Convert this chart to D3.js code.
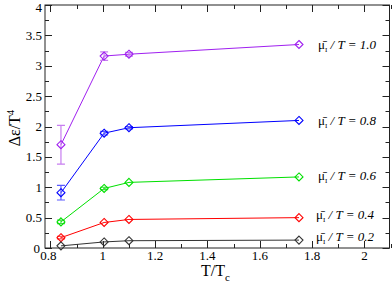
<!DOCTYPE html>
<html><head><meta charset="utf-8">
<script src="https://cdn.jsdelivr.net/npm/d3@7"></script>
<style>body{margin:0;background:#fff}svg{display:block}</style>
</head><body><svg id="c" width="392" height="287"></svg>
<script>
const xs = [0.84, 1.005, 1.1, 1.75];
const seriesNames = ["1.0", "0.8", "0.6", "0.4", "0.2"];
const vals10 = [1.70, 3.16, 3.19, 3.35];
const err10  = [0.32, 0.07, 0.03, 0];
const vals08 = [0.91, 1.89, 1.98, 2.10];
const err08  = [0.12, 0.03, 0.02, 0];
const vals06 = [0.43, 0.98, 1.08, 1.17];
const err06  = [0.03, 0.02, 0.01, 0];
const vals04 = [0.17, 0.42, 0.47, 0.50];
const err04  = [0.02, 0.01, 0.01, 0];
const vals02 = [0.035, 0.10, 0.12, 0.13];
const err02  = [0.01, 0, 0, 0];
const xTicks = [0.8, 1, 1.2, 1.4, 1.6, 1.8, 2];
const yTicks = [0, 0.5, 1, 1.5, 2, 2.5, 3, 3.5, 4];

const colors = ["#a020f0", "#0000ff", "#00e000", "#ff0000", "#333333"];
const errColors = ["#c77ef0", "#5a5aff", "#40e040", "#ff5050", "#666666"];
const labelAt = [3.32, 2.07, 1.17, 0.52, 0.16];
const series = [
  {v: vals10, e: err10}, {v: vals08, e: err08}, {v: vals06, e: err06},
  {v: vals04, e: err04}, {v: vals02, e: err02}
];

const L = 45, R = 389.5, T = 5, B = 248;
const x = d3.scaleLinear().domain([0.779, 2.096]).range([L, R]);
const y = d3.scaleLinear().domain([0, 4]).range([B, T]);
const svg = d3.select("#c").style("font-family", "'Liberation Serif', 'Tinos', 'DejaVu Serif', serif");

svg.append("rect").attr("x", L).attr("y", T).attr("width", R - L).attr("height", B - T)
  .attr("fill", "none").attr("stroke", "#222").attr("stroke-width", 1);

const g = svg.append("g").attr("stroke", "#222").attr("stroke-width", 1);
const xMinor = d3.range(8, 22).map(d => d / 10);
const yMinor = d3.range(0, 17).map(d => d / 4);
xMinor.forEach(t => {
  const major = Math.abs(t * 5 - Math.round(t * 5)) < 1e-6;
  const len = major ? 7 : 4;
  const px = Math.round(x(t)) + 0.5;
  g.append("line").attr("x1", px).attr("x2", px).attr("y1", B).attr("y2", B - len);
  g.append("line").attr("x1", px).attr("x2", px).attr("y1", T).attr("y2", T + len);
});
yMinor.forEach(t => {
  const major = Math.abs(t * 2 - Math.round(t * 2)) < 1e-6;
  const len = major ? 7 : 4;
  const py = Math.round(y(t)) + 0.5;
  g.append("line").attr("x1", L).attr("x2", L + len).attr("y1", py).attr("y2", py);
  g.append("line").attr("x1", R).attr("x2", R - len).attr("y1", py).attr("y2", py);
});

svg.append("g").selectAll("text").data(xTicks).join("text")
  .attr("x", d => x(d) - (d === 0.8 ? 2 : 0)).attr("y", 260)
  .attr("text-anchor", "middle").attr("font-size", 13).text(d => d3.format("~g")(d));
svg.append("g").selectAll("text").data(yTicks).join("text")
  .attr("x", d => d === 0 ? 40 : 42).attr("y", d => Math.max(y(d) + 4.5, 11.5) - (d === 0 ? 0 : 0))
  .attr("text-anchor", "end").attr("font-size", 13).text(d => d3.format("~g")(d));

const yl = svg.append("text").attr("transform", "translate(20,128) rotate(-90)")
  .attr("text-anchor", "middle").attr("font-size", 16);
yl.append("tspan").text("\u0394\u03b5/T");
yl.append("tspan").attr("dy", -6).attr("font-size", 11).text("4");
const xl = svg.append("text").attr("x", 201).attr("y", 276).attr("font-size", 16);
xl.append("tspan").text("T/T");
xl.append("tspan").attr("dy", 5).attr("font-size", 11).text("c");

const line = d3.line().x(d => x(d[0])).y(d => y(d[1]));
series.forEach((s, i) => {
  const pts = xs.map((xv, j) => [xv, s.v[j], s.e[j]]);
  const gs = svg.append("g");
  gs.append("path").attr("d", line(pts)).attr("fill", "none")
    .attr("stroke", colors[i]).attr("stroke-width", 1);
  pts.forEach(p => {
    if (p[2] > 0.015) {
      const cx = x(p[0]);
      gs.append("path")
        .attr("d", `M${cx},${y(p[1] + p[2])}V${y(p[1] - p[2])}M${cx - 4},${y(p[1] + p[2])}H${cx + 4}M${cx - 4},${y(p[1] - p[2])}H${cx + 4}`)
        .attr("stroke", errColors[i]).attr("stroke-width", 1.2).attr("fill", "none");
    }
  });
  gs.selectAll("path.m").data(pts).join("path").attr("class", "m")
    .attr("d", d => { const cx = x(d[0]), cy = y(d[1]); return `M${cx},${cy - 4}L${cx + 4},${cy}L${cx},${cy + 4}L${cx - 4},${cy}Z`; })
    .attr("fill", "none").attr("stroke", colors[i]).attr("stroke-width", 1.1);

  const t = svg.append("text").attr("x", i < 3 ? 318 : 316).attr("y", y(labelAt[i]) + 3)
    .attr("font-size", 13).attr("fill", "#000");
  t.append("tspan").text("\u03bc\u0304");
  t.append("tspan").attr("dy", 3).attr("font-size", 7).text("I");
  t.append("tspan").attr("dy", -3).attr("font-style", "italic").text(" / T = " + seriesNames[i]);
});
</script></body></html>
